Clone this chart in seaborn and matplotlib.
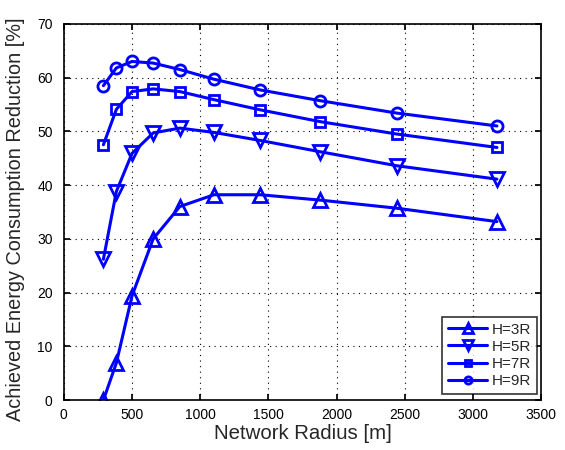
import numpy as np
import pandas as pd
import matplotlib
matplotlib.use("Agg")
import matplotlib.pyplot as plt
import seaborn as sns

radius = [290, 385, 500, 655, 850, 1100, 1440, 1880, 2440, 3175]
h3 = [0.0, 6.9, 19.4, 30.0, 36.0, 38.2, 38.2, 37.2, 35.7, 33.2]
h5 = [26.2, 38.8, 45.9, 49.7, 50.6, 49.8, 48.3, 46.2, 43.6, 41.1]
h7 = [47.5, 54.1, 57.4, 57.9, 57.4, 55.9, 54.0, 51.8, 49.5, 47.0]
h9 = [58.5, 61.8, 63.0, 62.7, 61.5, 59.7, 57.7, 55.7, 53.4, 51.0]
labels = ["H=3R", "H=5R", "H=7R", "H=9R"]
markers = ["^", "v", "s", "o"]
xticks = [0, 500, 1000, 1500, 2000, 2500, 3000, 3500]
yticks = [0, 10, 20, 30, 40, 50, 60, 70]

sns.set_theme(style="white")
plt.rcParams["font.family"] = ["Liberation Sans", "DejaVu Sans"]

rows = []
for lab, vals in zip(labels, [h3, h5, h7, h9]):
    for x, y in zip(radius, vals):
        rows.append({"Radius": x, "Reduction": y, "Series": lab})
df = pd.DataFrame(rows)

fig = plt.figure(figsize=(5.65, 4.5), dpi=100)
ax = fig.add_axes([0.113, 0.111, 0.845, 0.836])

msizes = {"^": 10, "v": 10, "s": 7, "o": 8}
for lab, m in zip(labels, markers):
    sub = df[df["Series"] == lab]
    sns.lineplot(data=sub, x="Radius", y="Reduction", ax=ax, color="#0000ff",
                 linewidth=2.2, marker=m, markersize=msizes[m],
                 markerfacecolor="none", markeredgecolor="#0000ff",
                 markeredgewidth=2, label=lab)

ax.set_xlim(0, 3500)
ax.set_ylim(0, 70)
ax.set_xticks(xticks)
ax.set_yticks(yticks)
ax.tick_params(direction="in", length=4, labelsize=10, colors="black",
               top=True, right=True, bottom=True, left=True)
ax.tick_params(axis="y", pad=8)
ax.tick_params(axis="x", pad=6)
ax.grid(True, linestyle=(0, (1, 4)), color="black", linewidth=0.8)
for s in ax.spines.values():
    s.set_color("black")
    s.set_linewidth(1.2)
ax.set_xlabel("Network Radius [m]", fontsize=14.7, labelpad=1)
ax.set_ylabel("Achieved Energy Consumption Reduction [%]", fontsize=14.3)
ax.yaxis.set_label_coords(-0.082, 0.48)

leg = ax.legend(loc="lower right", bbox_to_anchor=(0.992, 0.016), fontsize=11,
                frameon=True, fancybox=False, edgecolor="black",
                handlelength=2.6, borderaxespad=0, labelspacing=0.2,
                handletextpad=0.3, markerscale=0.65, borderpad=0.4)
leg.get_frame().set_linewidth(1.2)

fig.savefig("out.png", dpi=100)
